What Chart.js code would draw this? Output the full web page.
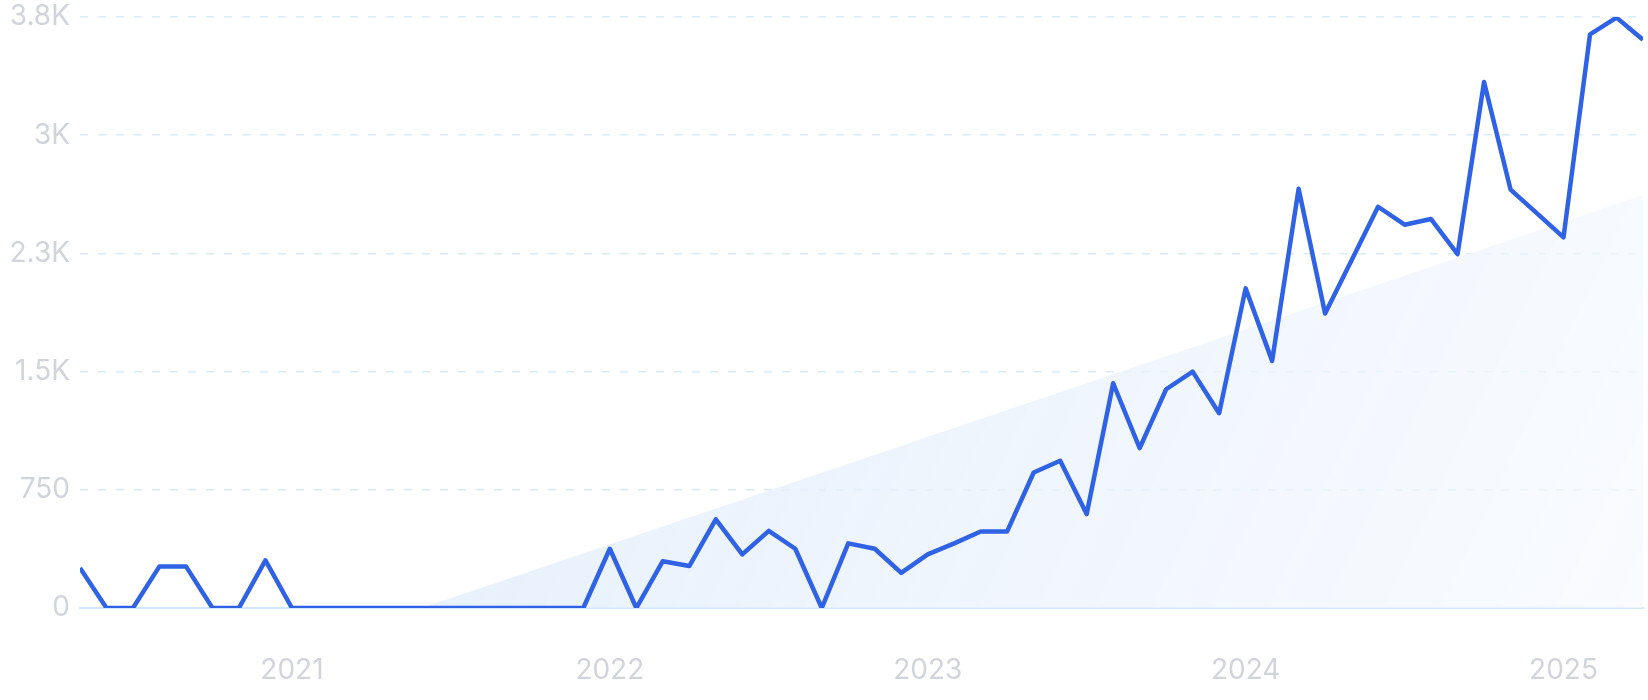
<!DOCTYPE html>
<html>
<head>
<meta charset="utf-8">
<script src="https://cdn.jsdelivr.net/npm/chart.js@4"></script>
<style>
  html, body { margin: 0; padding: 0; background: #ffffff; }
  #wrap { width: 1648px; height: 700px; position: relative; }
</style>
</head>
<body>
<div id="wrap"><canvas id="trendChart"></canvas></div>
<script>
// monthly points, May 2020 .. Apr 2025
const months = [
    '2020-05', '2020-06', '2020-07', '2020-08', '2020-09', '2020-10', '2020-11', '2020-12',
    '2021-01', '2021-02', '2021-03', '2021-04', '2021-05', '2021-06', '2021-07', '2021-08', '2021-09', '2021-10', '2021-11', '2021-12',
    '2022-01', '2022-02', '2022-03', '2022-04', '2022-05', '2022-06', '2022-07', '2022-08', '2022-09', '2022-10', '2022-11', '2022-12',
    '2023-01', '2023-02', '2023-03', '2023-04', '2023-05', '2023-06', '2023-07', '2023-08', '2023-09', '2023-10', '2023-11', '2023-12',
    '2024-01', '2024-02', '2024-03', '2024-04', '2024-05', '2024-06', '2024-07', '2024-08', '2024-09', '2024-10', '2024-11', '2024-12',
    '2025-01', '2025-02', '2025-03', '2025-04'
];
const searches = [
    254, 0, 0, 264, 264, 0, 0, 302,
    0, 0, 0, 0, 0, 0, 0, 0, 0, 0, 0, 0,
    376, 0, 297, 266, 563, 340, 489, 376, 0, 410, 376, 223,
    340, 410, 485, 486, 860, 934, 596, 1426, 1014, 1388, 1500, 1236,
    2028, 1568, 2660, 1869, 2207, 2546, 2432, 2468, 2245, 3337, 2655, 2504,
    2352, 3640, 3746, 3606
];
// trend band: start and end
const trendMonths = ['2021-06', '2025-04'];
const trendOffset = [-0.1, 0];   // start sits a little before Jun 2021
const trendValues = [0, 2620];

const yTickValues = [0, 750, 1500, 2250, 3000, 3750];
const yTickLabels = ['0', '750', '1.5K', '2.3K', '3K', '3.8K'];
const yearMonths = ['2021-01', '2022-01', '2023-01', '2024-01', '2025-01'];
const yearLabels = ['2021', '2022', '2023', '2024', '2025'];

const tickFont = { family: 'Inter, "Noto Sans", sans-serif', size: 28, weight: '400', lineHeight: 1.2 };
const tickColor = '#d2d4dc';

const canvas = document.getElementById('trendChart');

function bandFill(context) {
    const area = context.chart.chartArea;
    if (!area) return 'rgba(230,240,252,0.8)';
    const g = context.chart.ctx.createLinearGradient(area.left + 300, area.top, area.right, area.bottom);
    g.addColorStop(0, 'rgba(222, 235, 251, 0.85)');
    g.addColorStop(0.55, 'rgba(234, 242, 252, 0.75)');
    g.addColorStop(1, 'rgba(246, 249, 254, 0.7)');
    return g;
}

new Chart(canvas, {
    type: 'line',
    data: {
        datasets: [{
            label: 'Searches',
            data: searches.map((v, i) => ({ x: i, y: v })),
            borderColor: '#2f62e4',
            borderWidth: 4.5,
            borderJoinStyle: 'round',
            borderCapStyle: 'butt',
            pointRadius: 0,
            tension: 0,
            fill: false
        }, {
            label: 'Trend',
            data: trendMonths.map((m, i) => ({ x: months.indexOf(m) + trendOffset[i], y: trendValues[i] })),
            borderWidth: 0,
            borderColor: 'rgba(0,0,0,0)',
            backgroundColor: bandFill,
            pointRadius: 0,
            tension: 0,
            fill: 'origin'
        }]
    },
    options: {
        responsive: true,
        maintainAspectRatio: false,
        animation: false,
        layout: { padding: { top: 0, right: 5, bottom: 0, left: 0 } },
        plugins: {
            legend: { display: false },
            tooltip: { enabled: false }
        },
        scales: {
            x: {
                type: 'linear',
                min: 0,
                max: months.length - 1,
                afterBuildTicks: function(scale) {
                    scale.ticks = yearMonths.map(m => ({ value: months.indexOf(m) }));
                },
                afterFit: function(scale) {
                    scale.height = 92;
                    scale.paddingLeft = 0;
                    scale.paddingRight = 0;
                },
                ticks: {
                    autoSkip: false,
                    maxRotation: 0,
                    padding: 46,
                    color: tickColor,
                    font: tickFont,
                    callback: function(value, index) { return yearLabels[index]; }
                },
                grid: { display: false, drawTicks: false },
                border: { display: true, color: '#d2e8f8', width: 2 }
            },
            y: {
                min: 0,
                max: 3750,
                afterBuildTicks: function(scale) {
                    scale.ticks = yTickValues.map(v => ({ value: v }));
                },
                afterFit: function(scale) {
                    scale.width = 80;
                    scale.paddingTop = 17;
                    scale.paddingBottom = 0;
                },
                ticks: {
                    padding: 10,
                    color: tickColor,
                    font: tickFont,
                    callback: function(value, index) { return yTickLabels[index]; }
                },
                grid: {
                    drawTicks: false,
                    lineWidth: 1.5,
                    color: function(ctx) {
                        return ctx.tick && ctx.tick.value === 0 ? 'rgba(0,0,0,0)' : '#d7ecf7';
                    }
                },
                border: { display: false, dash: [8, 10] }
            }
        }
    }
});
</script>
</body>
</html>
